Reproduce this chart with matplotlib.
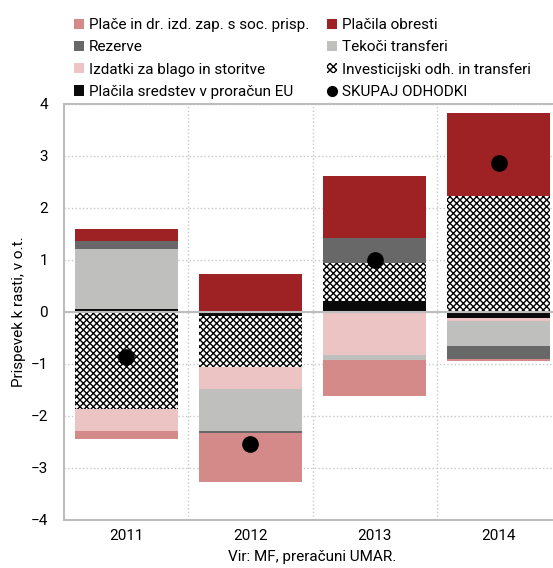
import numpy as np
import matplotlib
matplotlib.use("Agg")
import matplotlib.pyplot as plt
from matplotlib.patches import Patch
from matplotlib.lines import Line2D

plt.rcParams['font.family'] = ['Roboto', 'DejaVu Sans']
plt.rcParams['hatch.linewidth'] = 1.0

leta = ["2011", "2012", "2013", "2014"]

# prispevki k rasti (o.t.), vrstni red zlaganja od nicle navzven
eu = [0.04, -0.08, 0.21, -0.13]
investicije = [-1.87, -0.98, 0.73, 2.23]
izdatki = [-0.42, -0.43, -0.84, -0.05]
tekoci = [1.16, -0.80, -0.09, -0.48]
rezerve = [0.15, -0.05, 0.48, -0.26]
place = [-0.17, -0.93, -0.69, -0.04]
obresti = [0.23, 0.72, 1.19, 1.58]
skupaj = [-0.88, -2.55, 1.00, 2.86]

serije = [
    ("Plačila sredstev v proračun EU", eu, "#0a0a0a", None),
    ("Investicijski odh. in transferi", investicije, "white", "xxxxx"),
    ("Izdatki za blago in storitve", izdatki, "#ecc4c3", None),
    ("Tekoči transferi", tekoci, "#bfbfbe", None),
    ("Rezerve", rezerve, "#686868", None),
    ("Plače in dr. izd. zap. s soc. prisp.", place, "#d48a88", None),
    ("Plačila obresti", obresti, "#9e2124", None),
]

fig = plt.figure(figsize=(5.53, 5.68), dpi=100)
ax = fig.add_axes([64 / 553, 48.5 / 568, 497 / 553, 416 / 568])

x = np.arange(len(leta))
w = 0.83
pos = np.zeros(len(leta))
neg = np.zeros(len(leta))
for ime, vals, barva, hatch in serije:
    vals = np.array(vals)
    bottom = np.where(vals >= 0, pos, neg)
    if hatch:
        ax.bar(x, vals, w, bottom=bottom, color="white", edgecolor="black",
               hatch=hatch, linewidth=0, zorder=3)
    else:
        ax.bar(x, vals, w, bottom=bottom, color=barva, linewidth=0, zorder=3)
    pos = pos + np.where(vals >= 0, vals, 0)
    neg = neg + np.where(vals < 0, vals, 0)

ax.plot(x, skupaj, 'o', color='black', markersize=11, zorder=5)

ax.set_xlim(-0.5, 3.5)
ax.set_ylim(-4, 4)
ax.set_yticks(range(-4, 5))
ax.set_xticks(x)
ax.set_xticklabels(leta, fontsize=11)
ax.tick_params(axis='y', labelsize=11, length=0, pad=11.5)
ax.tick_params(axis='x', length=0, pad=7)
ax.set_xticks([0.5, 1.5, 2.5], minor=True)
ax.tick_params(axis='x', which='minor', length=0)
ax.grid(True, axis='y', color='#c8c8c8', linestyle=':', linewidth=1, zorder=0)
ax.grid(True, axis='x', which='minor', color='#c8c8c8', linestyle=':', linewidth=1, zorder=0)
ax.axhline(0, color='#bdbdbd', linewidth=1.5, zorder=4)

for s in ['left', 'top', 'bottom']:
    ax.spines[s].set_color('#bdbdbd')
    ax.spines[s].set_linewidth(1.5)
ax.spines['right'].set_visible(False)

ax.set_ylabel("Prispevek k rasti, v o.t.", fontsize=11)
ax.yaxis.set_label_coords(-38 / 497, 0.5)
ax.set_xlabel("Vir: MF, preračuni UMAR.", fontsize=11, labelpad=5)

barve = {ime: (barva, hatch) for ime, vals, barva, hatch in serije}

def rocaj(ime):
    barva, hatch = barve[ime]
    if hatch:
        return Patch(facecolor='white', edgecolor='black', hatch=hatch, linewidth=0)
    return Patch(facecolor=barva, linewidth=0)

imena = ["Plače in dr. izd. zap. s soc. prisp.", "Rezerve",
         "Izdatki za blago in storitve", "Plačila sredstev v proračun EU",
         "Plačila obresti", "Tekoči transferi",
         "Investicijski odh. in transferi"]
rocaji = [rocaj(i) for i in imena]
rocaji.append(Line2D([], [], marker='o', color='black', linestyle='', markersize=7))
oznake = imena + ["SKUPAJ ODHODKI"]

fig.legend(rocaji, oznake, ncol=2, loc='upper left', bbox_to_anchor=(68 / 553, 1 - 12 / 568),
           frameon=False, fontsize=11, handlelength=0.65, handleheight=0.65,
           handletextpad=0.3, columnspacing=1.2, labelspacing=0.54, borderaxespad=0)

fig.savefig("out.png", dpi=100)
